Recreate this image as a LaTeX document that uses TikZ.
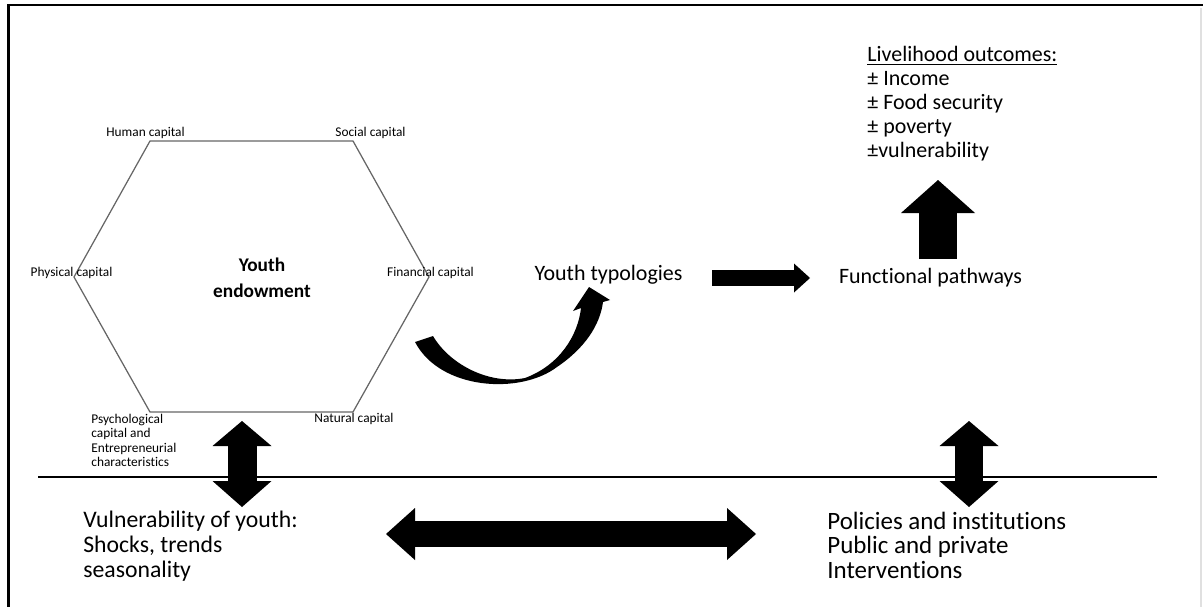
\documentclass[tikz,border=0pt]{standalone}
\usepackage{fontspec}
\setmainfont{Carlito}[Ligatures={NoCommon}]
\usetikzlibrary{arrows.meta}
\tikzset{
  caplabel/.style={font=\fontsize{7.6}{8.3}\selectfont, inner sep=0pt},
  midtext/.style={font=\fontsize{12.5}{14}\selectfont, inner sep=0pt},
  bigtext/.style={font=\fontsize{13.5}{14.2}\selectfont, inner sep=0pt, align=left},
  hexline/.style={draw=black!60, line width=0.25mm},
}
\begin{document}
\begin{tikzpicture}[x=0.2mm, y=-0.2mm]
  \useasboundingbox (0,0) rectangle (1203,607);
  % === Frame ===
  \draw[line width=0.55mm] (1203,5) -- (8.5,5) -- (8.5,607);
  \draw[black!12, line width=0.3mm] (1201,8) -- (1201,607);
  % === Hexagon (youth endowment) ===
  \coordinate (hA) at (150,141);
  \coordinate (hB) at (353,141);
  \coordinate (hC) at (429,277);
  \coordinate (hD) at (353,412);
  \coordinate (hE) at (150,412);
  \coordinate (hF) at (74,277);
  \draw[hexline] (hA) -- (hB) -- (hC) -- (hD) -- (hE) -- (hF) -- cycle;
  \node[caplabel, anchor=base] (human) at (145.5,136) {Human capital};
  \node[caplabel, anchor=base] (social) at (370.5,136) {Social capital};
  \node[caplabel, anchor=base] (physical) at (71.5,276) {Physical capital};
  \node[caplabel, anchor=base] (financial) at (430.5,276) {Financial capital};
  \node[caplabel, anchor=base] (natural) at (354,422) {Natural capital};
  \node[caplabel, anchor=north west, align=left] (psych) at (91,413.5)
    {Psychological\\capital and\\Entrepreneurial\\characteristics};
  \node[font=\bfseries\fontsize{11}{14.7}\selectfont, align=center, inner sep=0pt] (endow) at (262,278) {Youth\\endowment};
  % === Middle row ===
  \node[midtext, anchor=base] (typ) at (608.5,280) {Youth typologies};
  \node[midtext, anchor=base] (path) at (930.5,283) {Functional pathways};
  \node[midtext, anchor=north west, align=left, font=\fontsize{12.5}{13.6}\selectfont] (outc) at (867,46)
    {\underline{Livelihood outcomes:}\\± Income\\± Food security\\± poverty\\±vulnerability};
  % curved arrow from endowment to typologies
  \fill (415,342) .. controls (440,390) and (520,395) .. (557,367)
    .. controls (585,348) and (600,325) .. (603,302) -- (610,300) -- (589,287) -- (573,311) -- (581,308)
    .. controls (578,335) and (560,365) .. (525,378)
    .. controls (490,385) and (450,365) .. (433,336) -- cycle;
  \coordinate (typE) at (712,278);
  \coordinate (pathW) at (810,278);
  \draw[line width=3.2mm, -{Triangle[width=5.8mm,length=3.2mm,line width=0pt]}] (typE) -- (pathW);
  \coordinate (pathN) at (938,259);
  \coordinate (outcS) at (938,180);
  \draw[line width=7.6mm, -{Triangle[width=14.8mm,length=6.6mm,line width=0pt]}] (pathN) -- (outcS);
  % === Divider ===
  \coordinate (divL) at (38,477);
  \coordinate (divR) at (1157,477);
  \draw[line width=0.45mm] (divL) -- (divR);
  % === Bottom row ===
  \node[bigtext, anchor=north west] (vuln) at (83,511)
    {Vulnerability of youth:\\Shocks, trends\\seasonality};
  \node[bigtext, anchor=north west, font=\fontsize{14.2}{13.9}\selectfont] (policy) at (827,511.5)
    {Policies and institutions\\Public and private\\Interventions};
  \coordinate (endowS) at (242,421);
  \coordinate (vulnN) at (242,507);
  \draw[line width=5.8mm, {Triangle[width=11.8mm,length=5mm,line width=0pt]}-{Triangle[width=11.8mm,length=5.2mm,line width=0pt]}] (endowS) -- (vulnN);
  \coordinate (pathS) at (969,421);
  \coordinate (policyN) at (969,507);
  \draw[line width=5.6mm, {Triangle[width=11.8mm,length=5mm,line width=0pt]}-{Triangle[width=11.8mm,length=5.2mm,line width=0pt]}] (pathS) -- (policyN);
  \coordinate (vulnE) at (386,534);
  \coordinate (policyW) at (756,534);
  \draw[line width=5.2mm, {Triangle[width=10.4mm,length=5.8mm,line width=0pt]}-{Triangle[width=10.4mm,length=5.8mm,line width=0pt]}] (vulnE) -- (policyW);
\end{tikzpicture}
\end{document}
